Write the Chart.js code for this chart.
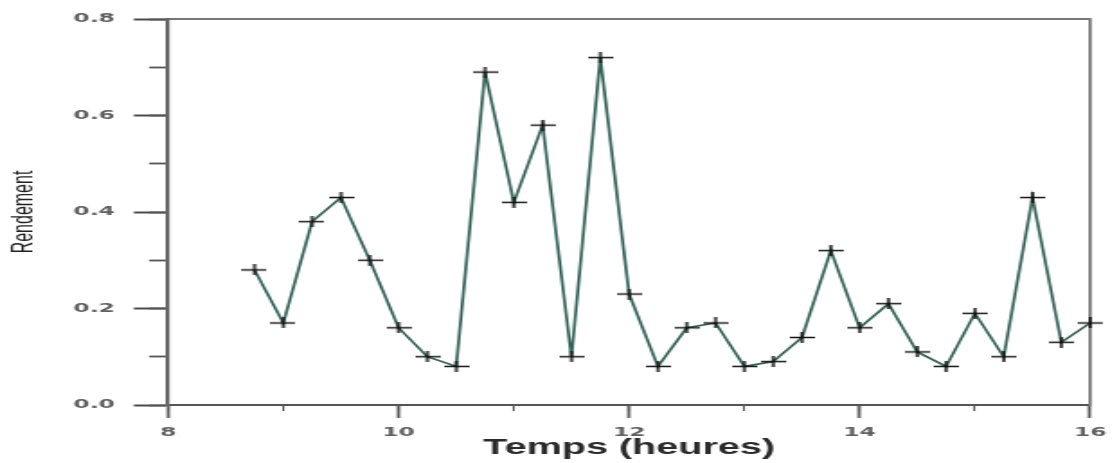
<!DOCTYPE html>
<html><head><meta charset="utf-8">
<script src="https://cdn.jsdelivr.net/npm/chart.js@4/dist/chart.umd.min.js"></script>
<style>
html,body{margin:0;padding:0;background:#fff;overflow:hidden;}
#wrap{width:622px;height:463px;transform:scaleX(1.79904);transform-origin:0 0;}
</style></head><body>
<div id="wrap"><canvas id="c" width="622" height="463"></canvas></div>
<script>
// ---- data ----
const hours = [8.75, 9.0, 9.25, 9.5, 9.75, 10.0, 10.25, 10.5, 10.75, 11.0, 11.25, 11.5, 11.75, 12.0, 12.25,
               12.5, 12.75, 13.0, 13.25, 13.5, 13.75, 14.0, 14.25, 14.5, 14.75, 15.0, 15.25, 15.5, 15.75, 16.0];
const rendement = [0.28, 0.17, 0.38, 0.43, 0.30, 0.16, 0.10, 0.08, 0.69, 0.42, 0.58, 0.10, 0.72, 0.23, 0.08,
                   0.16, 0.17, 0.08, 0.09, 0.14, 0.32, 0.16, 0.21, 0.11, 0.08, 0.19, 0.10, 0.43, 0.13, 0.17];
const xTickLabels = ['8', '10', '12', '14', '16'];
const yTickLabels = ['0.0', '0.2', '0.4', '0.6', '0.8'];
const xTitle = 'Temps (heures)';
const yTitle = 'Rendement';

// ---- marker: "+" with wide horizontal arm ----
const plus = document.createElement('canvas');
plus.width = 14; plus.height = 11;
const pc = plus.getContext('2d');
pc.strokeStyle = '#111';
pc.lineWidth = 1.5;
pc.beginPath(); pc.moveTo(0, 5.5); pc.lineTo(14, 5.5); pc.stroke();
pc.beginPath(); pc.moveTo(7, 0); pc.lineTo(7, 11); pc.stroke();

const tickFont = { family: 'DejaVu Sans', weight: 'bold', size: 13 };

new Chart(document.getElementById('c'), {
  type: 'line',
  data: {
    datasets: [{
      data: hours.map((h, i) => ({ x: h, y: rendement[i] })),
      borderColor: '#346356',
      borderWidth: 1.7,
      tension: 0,
      fill: false,
      pointStyle: plus,
      pointRadius: 7,
      clip: false,
      xAxisID: 'x',
      yAxisID: 'y'
    }]
  },
  options: {
    responsive: false,
    animation: false,
    devicePixelRatio: 1,
    layout: { autoPadding: false, padding: { top: 19, right: 13.1, left: 0, bottom: 0 } },
    plugins: { legend: { display: false }, tooltip: { enabled: false } },
    scales: {
      x: {
        type: 'linear', min: 8, max: 16, position: 'bottom', weight: 1,
        afterFit: s => { s.height = 58; },
        border: { display: true, color: '#555', width: 2 },
        grid: { drawOnChartArea: false, tickLength: 13, color: '#666', tickColor: '#5a5a5a', tickWidth: 1.8 },
        ticks: {
          stepSize: 2, autoSkip: false, maxRotation: 0, padding: 7,
          color: '#606060', font: tickFont,
          callback: v => xTickLabels[Math.round((v - 8) / 2)]
        },
        title: {
          display: true, text: xTitle, color: '#2a2a2a',
          font: { family: 'Liberation Sans', weight: 'bold', size: 22 },
          padding: { top: 0, bottom: 2 }
        }
      },
      xMinor: {
        type: 'linear', min: 8, max: 16, position: 'bottom', weight: 0,
        afterFit: s => { s.height = 0; },
        border: { display: false },
        grid: { drawOnChartArea: false, tickLength: 6, tickColor: '#555', tickWidth: 1.1 },
        ticks: { stepSize: 1, autoSkip: false, maxRotation: 0, callback: () => '' }
      },
      xTop: {
        type: 'linear', min: 8, max: 16, position: 'top',
        afterFit: s => { s.height = 0; },
        border: { display: true, color: '#777', width: 2 },
        grid: { display: false },
        ticks: { display: false }
      },
      y: {
        type: 'linear', min: 0, max: 0.8, position: 'left', weight: 1,
        afterFit: s => { s.width = 93.4; },
        border: { display: true, color: '#666', width: 2.2 },
        grid: { drawOnChartArea: false, tickLength: 19, color: '#555', tickColor: '#4a4a4a', tickWidth: 2 },
        ticks: {
          stepSize: 0.2, autoSkip: false, padding: 10.5,
          color: '#606060', font: tickFont,
          callback: v => yTickLabels[Math.round(v * 5)]
        },
        title: {
          display: true, text: yTitle, color: '#222',
          font: { family: 'Liberation Sans', weight: 'normal', size: 16 },
          padding: { top: 4, bottom: 0 }
        }
      },
      yMinor: {
        type: 'linear', min: 0, max: 0.8, position: 'left', weight: 0,
        afterFit: s => { s.width = 0; },
        border: { display: false },
        grid: { drawOnChartArea: false, tickLength: 10.5, tickColor: '#555', tickWidth: 1.8 },
        ticks: { stepSize: 0.1, autoSkip: false, callback: () => '' }
      },
      yRight: {
        type: 'linear', min: 0, max: 0.8, position: 'right',
        afterFit: s => { s.width = 0; },
        border: { display: true, color: '#7a7a7a', width: 1.8 },
        grid: { display: false },
        ticks: { display: false }
      }
    }
  }
});
</script>
</body></html>
